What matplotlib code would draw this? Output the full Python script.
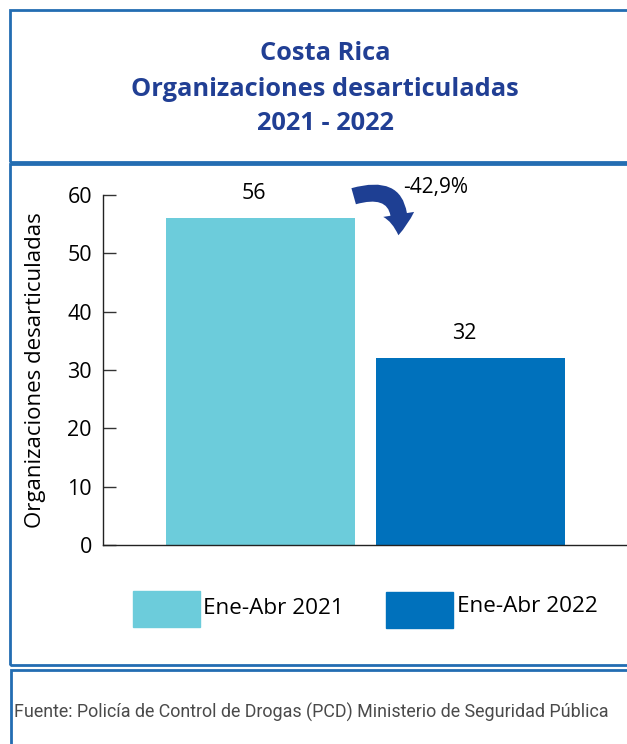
import matplotlib
matplotlib.use("Agg")
import matplotlib.pyplot as plt
from matplotlib.patches import Rectangle, FancyArrowPatch

# data
periods = ["Ene-Abr 2021", "Ene-Abr 2022"]
values = [56, 32]
bar_colors = ["#6CCCDB", "#0071BC"]
change_label = "-42,9%"
yticks = [0, 10, 20, 30, 40, 50, 60]

title_lines = ["Costa Rica", "Organizaciones desarticuladas", "2021 - 2022"]
ylabel = "Organizaciones desarticuladas"
source = "Fuente: Policía de Control de Drogas (PCD) Ministerio de Seguridad Pública"

W, H = 627, 744
fig = plt.figure(figsize=(W / 100, H / 100), dpi=100)


def fx(x):
    return x / W


def fy(y):
    return 1 - y / H


border = "#236DB2"
title_color = "#213F94"

# frame boxes
for (x0, y0, x1, y1) in [(10, 10, 640, 162), (10, 164, 640, 665), (11, 670, 640, 760)]:
    fig.patches.append(Rectangle((fx(x0), fy(y1)), fx(x1 - x0), (y1 - y0) / H,
                                 transform=fig.transFigure, fill=False,
                                 edgecolor=border, linewidth=2.0, clip_on=False))

# title
for txt, y in zip(title_lines, [53, 90, 124]):
    fig.text(fx(325), fy(y), txt, ha="center", va="center", fontsize=18.3,
             fontweight="bold", color=title_color, family="Open Sans")

# axes
ax = fig.add_axes([fx(103), fy(545), fx(627 - 103), 350 / H])
x = list(range(len(values)))
bars = ax.bar(x, values, width=0.9, color=bar_colors)
ax.set_xlim(-0.75, 1.745)
ax.set_ylim(0, 60)
ax.set_yticks(yticks)
ax.set_xticks([])
for s in ["top", "right"]:
    ax.spines[s].set_visible(False)
for s in ["left", "bottom"]:
    ax.spines[s].set_color("#222222")
    ax.spines[s].set_linewidth(1.0)
ax.tick_params(axis="y", direction="in", length=9, width=1, color="#333333",
               labelsize=15.5, pad=8)
for lab in ax.get_yticklabels():
    lab.set_family("Open Sans")
ax.set_ylabel(ylabel, fontsize=16, family="Open Sans")
ax.yaxis.set_label_coords(-0.108, 0.5)

for xi, v in zip(x, values):
    ax.annotate(str(v), (xi - 0.03, v), xytext=(0, 18), textcoords="offset points",
                ha="center", va="center", fontsize=15.5, family="Open Sans")

# change arrow and label
arrow = FancyArrowPatch((fx(351), fy(197)), (fx(398), fy(238)),
                        transform=fig.transFigure, connectionstyle="arc3,rad=-0.8",
                        arrowstyle="simple,head_width=1.5,head_length=1.0,tail_width=0.8",
                        mutation_scale=15, color="#1E3F93", linewidth=0)
fig.patches.append(arrow)
fig.text(fx(403), fy(187), change_label, ha="left", va="center", fontsize=15,
         family="Open Sans")

# legend
leg_pos = [(133, 591, 203, 609), (386, 592, 457, 606)]
for (px, py, tx, ty), lab, c in zip(leg_pos, periods, bar_colors):
    fig.patches.append(Rectangle((fx(px), fy(py + 36)), fx(67), 36 / H,
                                 transform=fig.transFigure, color=c))
    fig.text(fx(tx), fy(ty), lab, ha="left", va="center", fontsize=16.2,
             family="Open Sans")

# source
fig.text(fx(14), fy(712), source, ha="left", va="center", fontsize=12.9,
         color="#4A4A4A", family="Roboto")

fig.savefig("out.png", dpi=100)
